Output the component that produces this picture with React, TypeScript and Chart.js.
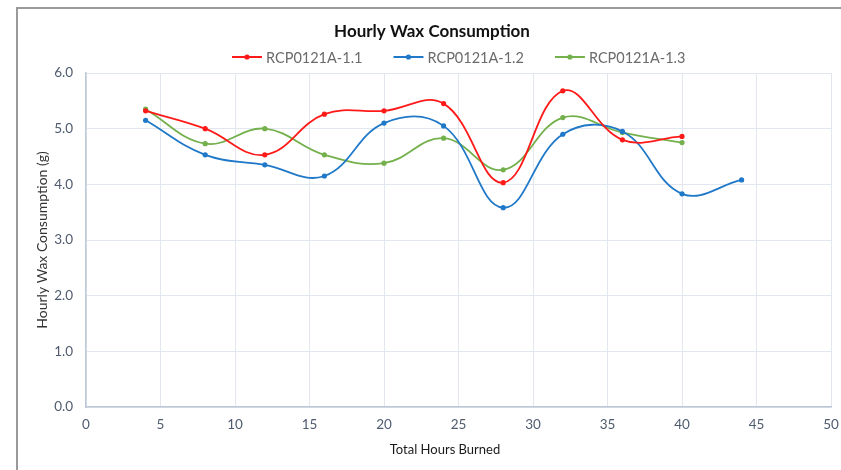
import React, { useEffect, useRef } from "react";
import { Chart, registerables } from "chart.js";

Chart.register(...registerables);

const chartTitle = "Hourly Wax Consumption";
const xAxisTitle = "Total Hours Burned";
const yAxisTitle = "Hourly Wax Consumption (g)";

const hoursA = [4, 8, 12, 16, 20, 24, 28, 32, 36, 40];
const hoursB = [4, 8, 12, 16, 20, 24, 28, 32, 36, 40, 44];
const hoursC = [4, 8, 12, 16, 20, 24, 28, 32, 36, 40];

const seriesNames = ["RCP0121A-1.1", "RCP0121A-1.2", "RCP0121A-1.3"];
const series11 = [5.32, 5.0, 4.53, 5.26, 5.32, 5.45, 4.03, 5.68, 4.8, 4.86];
const series12 = [5.15, 4.53, 4.35, 4.15, 5.1, 5.05, 3.58, 4.9, 4.95, 3.83, 4.08];
const series13 = [5.35, 4.73, 5.0, 4.53, 4.38, 4.83, 4.26, 5.2, 4.93, 4.75];
const seriesColors = ["#ff1a1a", "#1f78c8", "#74b04c"];

const xTicksMax = 50;
const yTicksMax = 6;

const FONT = "Lato, 'Open Sans', sans-serif";

const titlePlugin = {
  id: "customTitle",
  afterDraw(chart: any) {
    const ctx = chart.ctx;
    ctx.save();
    ctx.font = `bold 17px ${FONT}`;
    ctx.fillStyle = "#111111";
    ctx.textAlign = "center";
    ctx.textBaseline = "middle";
    ctx.fillText(chartTitle, 432, 32);

    ctx.font = `13px ${FONT}`;
    ctx.fillStyle = "#1a1a1a";
    ctx.fillText(xAxisTitle, 445, 450);

    // legend
    ctx.font = `14.5px ${FONT}`;
    const lineW = 30;
    const gapText = 4;
    const gapItem = 31;
    const items = chart.data.datasets.map((ds: any) => ({
      label: ds.label,
      color: ds.borderColor,
      w: lineW + gapText + ctx.measureText(ds.label).width,
    }));
    let x = 232;
    const y = 57;
    items.forEach((it: any) => {
      ctx.strokeStyle = it.color;
      ctx.lineWidth = 2;
      ctx.beginPath();
      ctx.moveTo(x, y);
      ctx.lineTo(x + lineW, y);
      ctx.stroke();
      ctx.fillStyle = it.color;
      ctx.beginPath();
      ctx.arc(x + lineW / 2, y, 2.6, 0, Math.PI * 2);
      ctx.fill();
      ctx.fillStyle = "#6b6b6b";
      ctx.textAlign = "left";
      ctx.fillText(it.label, x + lineW + gapText, y + 1);
      x += it.w + gapItem;
    });
    ctx.restore();
  },
};

const framePlugin = {
  id: "frame",
  beforeDraw(chart: any) {
    const ctx = chart.ctx;
    ctx.save();
    ctx.fillStyle = "#ffffff";
    ctx.fillRect(0, 0, chart.width, chart.height);
    ctx.strokeStyle = "#9a9a9a";
    ctx.lineWidth = 2;
    ctx.beginPath();
    ctx.moveTo(17, chart.height);
    ctx.lineTo(17, 8);
    ctx.lineTo(chart.width, 8);
    ctx.stroke();
    ctx.restore();
  },
};

export default function App() {
  const ref = useRef<HTMLCanvasElement>(null);
  useEffect(() => {
    const mk = (xs: number[], ys: number[]) => xs.map((x, i) => ({ x, y: ys[i] }));
    const datas = [mk(hoursA, series11), mk(hoursB, series12), mk(hoursC, series13)];
    const chart = new Chart(ref.current!, {
      type: "line",
      data: {
        datasets: datas.map((d, i) => ({
          label: seriesNames[i],
          data: d,
          borderColor: seriesColors[i],
          backgroundColor: seriesColors[i],
          borderWidth: 1.8,
          pointRadius: 2.6,
          pointBorderWidth: 0,
          pointStyle: "circle",
          tension: 0.4,
        })),
      },
      options: {
        animation: false,
        responsive: false,
        layout: { padding: { left: 30, right: 10, top: 73, bottom: 11 } },
        plugins: {
          title: { display: false },
          tooltip: { enabled: false },
          legend: { display: false },
        },
        scales: {
          x: {
            type: "linear",
            min: 0,
            max: xTicksMax,
            ticks: {
              stepSize: 5,
              padding: 10,
              color: "#4f5b6e",
              font: { family: FONT, size: 13.5 },
            },
            grid: { color: "#e2e6ee", drawTicks: false, lineWidth: 1 },
            border: { color: "#bcc7d8", width: 1.5 },
            title: { display: false, text: xAxisTitle },
            afterFit: (s: any) => {
              s.height = 52;
              s.paddingLeft = 0;
              s.paddingRight = 0;
            },
          },
          y: {
            type: "linear",
            min: 0,
            max: yTicksMax,
            ticks: {
              stepSize: 1,
              padding: 13,
              color: "#4f5b6e",
              font: { family: FONT, size: 13.5 },
              callback: (v: any) => Number(v).toFixed(1),
            },
            grid: { color: "#e2e6ee", drawTicks: false, lineWidth: 1 },
            border: { color: "#bcc7d8", width: 1.5 },
            title: {
              display: true,
              text: yAxisTitle,
              color: "#333333",
              font: { family: FONT, size: 14 },
              padding: { top: 4, bottom: 4 },
            },
            afterFit: (s: any) => {
              s.width = 56;
              s.paddingTop = 0;
              s.paddingBottom = 0;
            },
          },
        },
      },
      plugins: [framePlugin, titlePlugin],
    });
    return () => chart.destroy();
  }, []);
  return (
    <div style={{ position: "fixed", left: 0, top: 0, width: 841, height: 470, overflow: "hidden", background: "#fff" }}>
      <canvas ref={ref} width={841} height={470} style={{ display: "block", width: 841, height: 470 }} />
    </div>
  );
}
